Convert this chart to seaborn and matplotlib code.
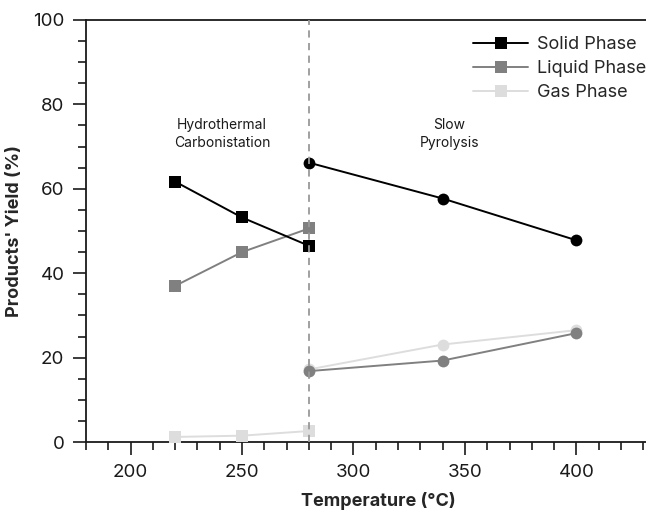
import matplotlib
matplotlib.use("Agg")
import matplotlib.pyplot as plt
import seaborn as sns
from matplotlib.ticker import MultipleLocator

# Data
htc_temp = [220, 250, 280]
htc_solid = [61.7, 53.2, 46.5]
htc_liquid = [37.0, 45.0, 50.6]
htc_gas = [1.2, 1.5, 2.6]

pyr_temp = [280, 340, 400]
pyr_solid = [66.2, 57.7, 47.8]
pyr_liquid = [16.8, 19.3, 25.8]
pyr_gas = [17.2, 23.1, 26.5]

phase_labels = ["Solid Phase", "Liquid Phase", "Gas Phase"]
phase_colors = ["#000000", "#808080", "#dddddd"]

sns.set_theme(style="ticks")
plt.rcParams["font.family"] = ["Inter", "DejaVu Sans"]

W, H = 646, 511
fig = plt.figure(figsize=(W / 100, H / 100), dpi=100)
# axes extends slightly past the right edge of the image (right spine cut off)
ax = fig.add_axes([86 / W, 69 / H, (670 - 86) / W, (442 - 20) / H])

htc_series = [htc_solid, htc_liquid, htc_gas]
pyr_series = [pyr_solid, pyr_liquid, pyr_gas]

for i in [2, 1, 0]:
    sns.lineplot(x=htc_temp, y=htc_series[i], ax=ax, color=phase_colors[i],
                 marker="s", markersize=8, markeredgewidth=0, linewidth=1.4,
                 label=phase_labels[i], zorder=3 + (2 - i))
for i in [1, 2, 0]:
    sns.lineplot(x=pyr_temp, y=pyr_series[i], ax=ax, color=phase_colors[i],
                 marker="o", markersize=8.5, markeredgewidth=0, linewidth=1.4,
                 zorder=3 + (2 - i))

ax.axvline(280, color="#999999", linestyle=(0, (4, 3)), linewidth=1.3, zorder=10)

ax.set_xlim(180, 442)
ax.set_ylim(0, 100)
ax.xaxis.set_major_locator(MultipleLocator(50))
ax.xaxis.set_minor_locator(MultipleLocator(10))
ax.yaxis.set_major_locator(MultipleLocator(20))
ax.yaxis.set_minor_locator(MultipleLocator(5))
ax.tick_params(axis="both", which="major", length=9.5, width=1.2, labelsize=13.5,
               color="#1a1a1a", labelcolor="#1a1a1a", direction="out", pad=6)
ax.tick_params(axis="both", which="minor", length=6, width=1.2, color="#1a1a1a",
               direction="out")
for s in ["left", "bottom", "top", "right"]:
    ax.spines[s].set_linewidth(1.3)
    ax.spines[s].set_color("#1a1a1a")

ax.set_xlabel("Temperature (°C)", fontsize=13, fontweight="bold", labelpad=8)
ax.set_ylabel("Products' Yield (%)", fontsize=13, fontweight="bold", labelpad=7)

ax.text(241, 73, "Hydrothermal\nCarbonistation", ha="center", va="center",
        fontsize=10, linespacing=1.3, color="#1a1a1a")
ax.text(343, 73, "Slow\nPyrolysis", ha="center", va="center",
        fontsize=10, linespacing=1.3, color="#1a1a1a")

handles, labels = ax.get_legend_handles_labels()
order = [labels.index(l) for l in phase_labels]
ax.legend([handles[k] for k in order], [labels[k] for k in order],
          loc="upper left", bbox_to_anchor=(457 / W, 1 - 20 / H),
          bbox_transform=fig.transFigure, frameon=False,
          fontsize=13, handlelength=3.05, handletextpad=0.5, labelspacing=0.38)

fig.savefig("out.png", dpi=100)
